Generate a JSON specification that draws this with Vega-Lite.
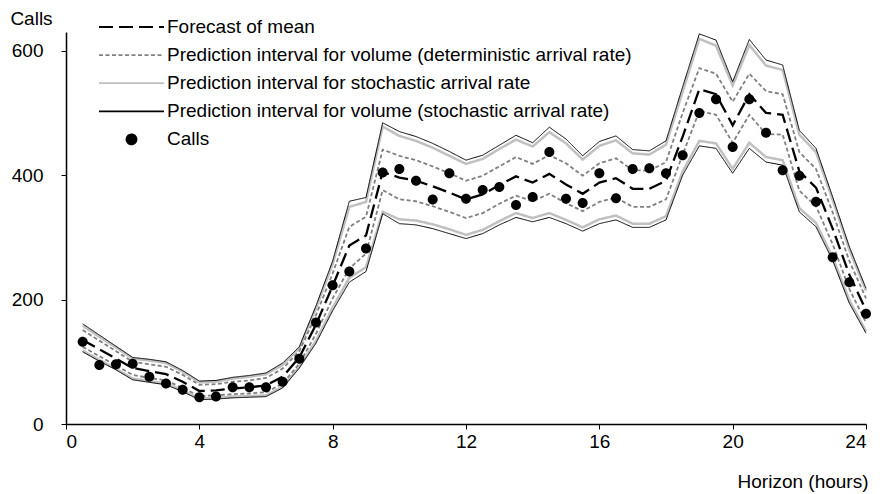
{
  "$schema": "https://vega.github.io/schema/vega-lite/v6.json",
  "width": 800,
  "height": 392,
  "autosize": {"type": "none"},
  "padding": {"left": 66, "top": 32, "right": 14, "bottom": 70},
  "background": "white",
  "config": {
    "view": {"stroke": null},
    "font": "Liberation Sans",
    "axis": {
      "grid": false,
      "domainColor": "#000000",
      "domainWidth": 1.5,
      "tickColor": "#000000",
      "tickWidth": 1,
      "tickSize": 5,
      "labelFont": "Liberation Sans",
      "labelFontSize": 19,
      "labelColor": "#000000",
      "titleFont": "Liberation Sans",
      "titleFontSize": 19,
      "titleFontWeight": "normal",
      "titleColor": "#000000"
    },
    "axisX": {
      "labelPadding": 3,
      "titleAnchor": "end",
      "titleAlign": "right",
      "titleX": 802,
      "titleY": 57,
      "titleBaseline": "middle"
    },
    "axisY": {
      "titleAngle": 0,
      "titleAlign": "center",
      "titleBaseline": "middle",
      "titleX": -35,
      "titleY": -14,
      "labelPadding": 18
    },
    "legend": {
      "orient": "none",
      "legendX": 33,
      "legendY": -18.5,
      "padding": 0,
      "labelFont": "Liberation Sans",
      "labelFontSize": 19,
      "labelColor": "#000000",
      "labelLimit": 700,
      "rowPadding": 4.1,
      "symbolOffset": 19,
      "labelOffset": 22,
      "symbolStrokeWidth": 1.8,
      "symbolSize": 625
    }
  },
  "data": {
    "values": [
      {"h": 0.5, "calls": 132, "mean": 135, "detL": 124, "detU": 151, "rateL": 118, "rateU": 158, "volL": 116, "volU": 161},
      {"h": 1, "calls": 95, "mean": 120, "detL": 109, "detU": 134, "rateL": 103, "rateU": 140, "volL": 101, "volU": 143},
      {"h": 1.5, "calls": 96, "mean": 105, "detL": 94, "detU": 117, "rateL": 89, "rateU": 123, "volL": 87, "volU": 125},
      {"h": 2, "calls": 97, "mean": 90, "detL": 79, "detU": 100, "rateL": 73, "rateU": 105, "volL": 71, "volU": 107},
      {"h": 2.5, "calls": 76, "mean": 85, "detL": 74, "detU": 96, "rateL": 69, "rateU": 102, "volL": 67, "volU": 104},
      {"h": 3, "calls": 65, "mean": 80, "detL": 70, "detU": 92, "rateL": 65, "rateU": 98, "volL": 63, "volU": 100},
      {"h": 3.5, "calls": 55, "mean": 68, "detL": 58, "detU": 79, "rateL": 54, "rateU": 84, "volL": 52, "volU": 86},
      {"h": 4, "calls": 43, "mean": 53, "detL": 45, "detU": 63, "rateL": 41, "rateU": 67, "volL": 39, "volU": 69},
      {"h": 4.5, "calls": 44, "mean": 54, "detL": 46, "detU": 64, "rateL": 42, "rateU": 68, "volL": 40, "volU": 70},
      {"h": 5, "calls": 59, "mean": 57, "detL": 48, "detU": 68, "rateL": 44, "rateU": 73, "volL": 42, "volU": 75},
      {"h": 5.5, "calls": 59, "mean": 59, "detL": 49, "detU": 70, "rateL": 45, "rateU": 76, "volL": 43, "volU": 78},
      {"h": 6, "calls": 59, "mean": 62, "detL": 51, "detU": 74, "rateL": 46, "rateU": 80, "volL": 44, "volU": 82},
      {"h": 6.5, "calls": 68, "mean": 76, "detL": 65, "detU": 89, "rateL": 60, "rateU": 95, "volL": 58, "volU": 98},
      {"h": 7, "calls": 105, "mean": 107, "detL": 97, "detU": 117, "rateL": 92, "rateU": 122, "volL": 90, "volU": 124},
      {"h": 7.5, "calls": 163, "mean": 160, "detL": 145, "detU": 175, "rateL": 134, "rateU": 186, "volL": 130, "volU": 190},
      {"h": 8, "calls": 223, "mean": 222, "detL": 202, "detU": 242, "rateL": 187, "rateU": 257, "volL": 182, "volU": 262},
      {"h": 8.5, "calls": 245, "mean": 287, "detL": 250, "detU": 317, "rateL": 235, "rateU": 349, "volL": 228, "volU": 358},
      {"h": 9, "calls": 282, "mean": 303, "detL": 274, "detU": 333, "rateL": 252, "rateU": 357, "volL": 245, "volU": 364},
      {"h": 9.5, "calls": 404, "mean": 405, "detL": 376, "detU": 441, "rateL": 341, "rateU": 478, "volL": 338, "volU": 484},
      {"h": 10, "calls": 410, "mean": 396, "detL": 361, "detU": 431, "rateL": 329, "rateU": 463, "volL": 322, "volU": 470},
      {"h": 10.5, "calls": 391, "mean": 391, "detL": 358, "detU": 424, "rateL": 327, "rateU": 455, "volL": 320, "volU": 462},
      {"h": 11, "calls": 361, "mean": 382, "detL": 350, "detU": 414, "rateL": 321, "rateU": 444, "volL": 314, "volU": 451},
      {"h": 11.5, "calls": 403, "mean": 372, "detL": 341, "detU": 403, "rateL": 313, "rateU": 431, "volL": 306, "volU": 438},
      {"h": 12, "calls": 362, "mean": 361, "detL": 331, "detU": 391, "rateL": 304, "rateU": 418, "volL": 298, "volU": 424},
      {"h": 12.5, "calls": 376, "mean": 369, "detL": 339, "detU": 399, "rateL": 312, "rateU": 426, "volL": 306, "volU": 432},
      {"h": 13, "calls": 381, "mean": 384, "detL": 354, "detU": 414, "rateL": 326, "rateU": 442, "volL": 320, "volU": 448},
      {"h": 13.5, "calls": 352, "mean": 398, "detL": 367, "detU": 429, "rateL": 339, "rateU": 457, "volL": 332, "volU": 464},
      {"h": 14, "calls": 365, "mean": 388, "detL": 358, "detU": 418, "rateL": 331, "rateU": 446, "volL": 325, "volU": 452},
      {"h": 14.5, "calls": 437, "mean": 402, "detL": 370, "detU": 432, "rateL": 339, "rateU": 469, "volL": 332, "volU": 477},
      {"h": 15, "calls": 362, "mean": 385, "detL": 355, "detU": 419, "rateL": 328, "rateU": 451, "volL": 322, "volU": 458},
      {"h": 15.5, "calls": 355, "mean": 370, "detL": 342, "detU": 399, "rateL": 316, "rateU": 425, "volL": 310, "volU": 431},
      {"h": 16, "calls": 403, "mean": 388, "detL": 357, "detU": 419, "rateL": 329, "rateU": 447, "volL": 322, "volU": 454},
      {"h": 16.5, "calls": 363, "mean": 395, "detL": 364, "detU": 427, "rateL": 335, "rateU": 456, "volL": 328, "volU": 463},
      {"h": 17, "calls": 410, "mean": 378, "detL": 349, "detU": 408, "rateL": 322, "rateU": 435, "volL": 316, "volU": 441},
      {"h": 17.5, "calls": 411, "mean": 378, "detL": 349, "detU": 407, "rateL": 322, "rateU": 433, "volL": 316, "volU": 439},
      {"h": 18, "calls": 403, "mean": 391, "detL": 361, "detU": 421, "rateL": 334, "rateU": 449, "volL": 328, "volU": 455},
      {"h": 18.5, "calls": 432, "mean": 462, "detL": 433, "detU": 500, "rateL": 406, "rateU": 534, "volL": 400, "volU": 542},
      {"h": 19, "calls": 500, "mean": 538, "detL": 503, "detU": 572, "rateL": 455, "rateU": 619, "volL": 447, "volU": 627},
      {"h": 19.5, "calls": 522, "mean": 530, "detL": 497, "detU": 563, "rateL": 451, "rateU": 608, "volL": 443, "volU": 617},
      {"h": 20, "calls": 445, "mean": 480, "detL": 452, "detU": 518, "rateL": 410, "rateU": 544, "volL": 403, "volU": 550},
      {"h": 20.5, "calls": 522, "mean": 530, "detL": 497, "detU": 563, "rateL": 452, "rateU": 609, "volL": 443, "volU": 618},
      {"h": 21, "calls": 468, "mean": 500, "detL": 466, "detU": 535, "rateL": 429, "rateU": 576, "volL": 421, "volU": 585},
      {"h": 21.5, "calls": 408, "mean": 497, "detL": 465, "detU": 530, "rateL": 424, "rateU": 569, "volL": 416, "volU": 577},
      {"h": 22, "calls": 399, "mean": 406, "detL": 375, "detU": 437, "rateL": 347, "rateU": 465, "volL": 341, "volU": 472},
      {"h": 22.5, "calls": 357, "mean": 380, "detL": 350, "detU": 410, "rateL": 323, "rateU": 437, "volL": 317, "volU": 443},
      {"h": 23, "calls": 268, "mean": 314, "detL": 289, "detU": 340, "rateL": 268, "rateU": 360, "volL": 263, "volU": 365},
      {"h": 23.5, "calls": 228, "mean": 240, "detL": 217, "detU": 262, "rateL": 199, "rateU": 280, "volL": 194, "volU": 285},
      {"h": 24, "calls": 177, "mean": 183, "detL": 163, "detU": 202, "rateL": 149, "rateU": 214, "volL": 146, "volU": 218}
    ]
  },
  "encoding": {
    "x": {
      "field": "h", "type": "quantitative",
      "scale": {"domain": [0, 24], "nice": false},
      "axis": {"values": [0, 4, 8, 12, 16, 20, 24]},
      "title": "Horizon (hours)"
    },
    "color": {
      "scale": {
        "domain": [
          "Forecast of mean",
          "Prediction interval for volume (deterministic arrival rate)",
          "Prediction interval for stochastic arrival rate",
          "Prediction interval for volume (stochastic arrival rate)",
          "Calls"
        ],
        "range": ["#000000", "#808080", "#c0c0c0", "#000000", "#000000"]
      },
      "legend": {"title": null}
    },
    "strokeDash": {
      "scale": {
        "domain": [
          "Forecast of mean",
          "Prediction interval for volume (deterministic arrival rate)",
          "Prediction interval for stochastic arrival rate",
          "Prediction interval for volume (stochastic arrival rate)",
          "Calls"
        ],
        "range": [[14, 6], [4, 2.5], [1, 0], [1, 0], [1, 0]]
      },
      "legend": {"title": null}
    }
  },
  "layer": [
    {
      "mark": {"type": "line", "strokeWidth": 2.5},
      "encoding": {
        "y": {"field": "rateU", "type": "quantitative", "scale": {"domain": [0, 630], "nice": false}, "axis": {"values": [0, 200, 400, 600]}, "title": "Calls"},
        "color": {"datum": "Prediction interval for stochastic arrival rate"},
        "strokeDash": {"datum": "Prediction interval for stochastic arrival rate"}
      }
    },
    {
      "mark": {"type": "line", "strokeWidth": 2.5},
      "encoding": {
        "y": {"field": "rateL", "type": "quantitative", "axis": {"values": [0, 200, 400, 600]}, "title": "Calls"},
        "color": {"datum": "Prediction interval for stochastic arrival rate"},
        "strokeDash": {"datum": "Prediction interval for stochastic arrival rate"}
      }
    },
    {
      "mark": {"type": "line", "strokeWidth": 1},
      "encoding": {
        "y": {"field": "volU", "type": "quantitative", "axis": {"values": [0, 200, 400, 600]}, "title": "Calls"},
        "color": {"datum": "Prediction interval for volume (stochastic arrival rate)"},
        "strokeDash": {"datum": "Prediction interval for volume (stochastic arrival rate)"}
      }
    },
    {
      "mark": {"type": "line", "strokeWidth": 1},
      "encoding": {
        "y": {"field": "volL", "type": "quantitative", "axis": {"values": [0, 200, 400, 600]}, "title": "Calls"},
        "color": {"datum": "Prediction interval for volume (stochastic arrival rate)"},
        "strokeDash": {"datum": "Prediction interval for volume (stochastic arrival rate)"}
      }
    },
    {
      "mark": {"type": "line", "strokeWidth": 1.8},
      "encoding": {
        "y": {"field": "detU", "type": "quantitative", "axis": {"values": [0, 200, 400, 600]}, "title": "Calls"},
        "color": {"datum": "Prediction interval for volume (deterministic arrival rate)"},
        "strokeDash": {"datum": "Prediction interval for volume (deterministic arrival rate)"}
      }
    },
    {
      "mark": {"type": "line", "strokeWidth": 1.8},
      "encoding": {
        "y": {"field": "detL", "type": "quantitative", "axis": {"values": [0, 200, 400, 600]}, "title": "Calls"},
        "color": {"datum": "Prediction interval for volume (deterministic arrival rate)"},
        "strokeDash": {"datum": "Prediction interval for volume (deterministic arrival rate)"}
      }
    },
    {
      "mark": {"type": "line", "strokeWidth": 2.3},
      "encoding": {
        "y": {"field": "mean", "type": "quantitative", "axis": {"values": [0, 200, 400, 600]}, "title": "Calls"},
        "color": {"datum": "Forecast of mean"},
        "strokeDash": {"datum": "Forecast of mean"}
      }
    },
    {
      "mark": {"type": "point", "filled": true, "opacity": 1, "size": 625},
      "encoding": {
        "y": {"field": "calls", "type": "quantitative", "axis": {"values": [0, 200, 400, 600]}, "title": "Calls"},
        "color": {"datum": "Calls"},
        "shape": {
          "datum": "Calls",
          "scale": {
            "domain": [
              "Forecast of mean",
              "Prediction interval for volume (deterministic arrival rate)",
              "Prediction interval for stochastic arrival rate",
              "Prediction interval for volume (stochastic arrival rate)",
              "Calls"
            ],
            "range": ["M-2.6,0L2.6,0", "M-2.6,0L2.6,0", "M-2.6,0L2.6,0", "M-2.6,0L2.6,0", "M-0.4,0A0.4,0.4,0,1,0,0.4,0A0.4,0.4,0,1,0,-0.4,0Z"]
          },
          "legend": {"title": null}
        }
      }
    }
  ]
}
